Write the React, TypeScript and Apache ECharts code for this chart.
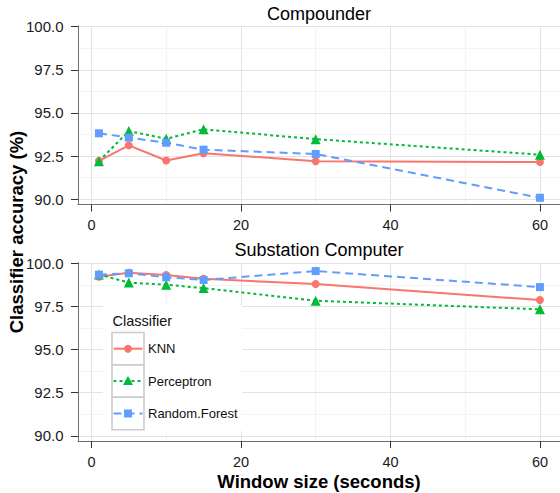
import React, { useEffect, useRef } from "react";
import * as echarts from "echarts";

const windows = [1, 5, 10, 15, 30, 60];
const compKNN = [92.22, 93.12, 92.24, 92.66, 92.2, 92.15];
const compPerceptron = [92.2, 93.95, 93.5, 94.05, 93.48, 92.58];
const compRandomForest = [93.82, 93.57, 93.27, 92.87, 92.62, 90.08];
const subKNN = [99.22, 99.45, 99.32, 99.1, 98.8, 97.87];
const subPerceptron = [99.35, 98.88, 98.76, 98.56, 97.83, 97.33];
const subRandomForest = [99.34, 99.42, 99.19, 99.03, 99.55, 98.62];

const xMajorTicks = [0, 20, 40, 60];
const xMinorTicks = [10, 30, 50];
const yMajorTicks = [90, 92.5, 95, 97.5, 100];
const yMinorTicks = [91.25, 93.75, 96.25, 98.75];

const panelTitles = ["Compounder", "Substation Computer"];
const classifiers = ["KNN", "Perceptron", "Random.Forest"];
const colors = ["#F8766D", "#00BA38", "#619CFF"];
const symbols = ["circle", "triangle", "rect"];
const symbolSizes = [8, 10, 8];
const lineTypes: any[] = ["solid", [3, 3], [8, 5]];

const FONT = "'Liberation Sans', Arial, Helvetica, sans-serif";

export default function App() {
  const ref = useRef<HTMLDivElement>(null);
  useEffect(() => {
    if (!ref.current) return;
    const chart = echarts.init(ref.current, undefined, { renderer: "svg" });

    const grids = [
      { left: 78, top: 26, width: 484, height: 178.5 },
      { left: 78, top: 262.6, width: 484, height: 178.5 },
    ].map((g) => ({ ...g, containLabel: false, outerBoundsMode: "none" }));

    const xMin = -1.8;
    const xMax = 62.95;
    const yMin = 89.69;
    const yMax = 100.04;

    const xAxes: any[] = [];
    const yAxes: any[] = [];
    [0, 1].forEach((g) => {
      xAxes.push({
        type: "value",
        gridIndex: g,
        min: xMin,
        max: xMax,
        axisLine: { show: true, onZero: false, lineStyle: { color: "#6e6e6e", width: 1 } },
        axisTick: { show: true, length: 7, customValues: xMajorTicks, lineStyle: { color: "#333", width: 1 } },
        axisLabel: { show: true, customValues: xMajorTicks, margin: 13, fontSize: 14.5, color: "#1a1a1a", fontFamily: FONT },
        splitLine: { show: true, lineStyle: { color: "#E3E3E3", width: 1 } },
        z: 1,
      });
      xAxes.push({
        type: "value",
        gridIndex: g,
        min: xMin,
        max: xMax,
        axisLine: { show: false, onZero: false },
        axisTick: { show: false, customValues: xMinorTicks },
        axisLabel: { show: false, customValues: xMinorTicks },
        splitLine: { show: true, lineStyle: { color: "#F3F3F3", width: 1 } },
        z: 0,
      });
      yAxes.push({
        type: "value",
        gridIndex: g,
        min: yMin,
        max: yMax,
        axisLine: { show: true, onZero: false, lineStyle: { color: "#6e6e6e", width: 1 } },
        axisTick: { show: true, length: 7, customValues: yMajorTicks, lineStyle: { color: "#333", width: 1 } },
        axisLabel: {
          show: true,
          customValues: yMajorTicks,
          margin: 14.5,
          fontSize: 15,
          color: "#1a1a1a",
          fontFamily: FONT,
          formatter: (v: number) => v.toFixed(1),
        },
        splitLine: { show: true, lineStyle: { color: "#E3E3E3", width: 1 } },
        z: 1,
      });
      yAxes.push({
        type: "value",
        gridIndex: g,
        min: yMin,
        max: yMax,
        axisLine: { show: false, onZero: false },
        axisTick: { show: false, customValues: yMinorTicks },
        axisLabel: { show: false, customValues: yMinorTicks },
        splitLine: { show: true, lineStyle: { color: "#F3F3F3", width: 1 } },
        z: 0,
      });
    });

    const panelData = [
      [compKNN, compPerceptron, compRandomForest],
      [subKNN, subPerceptron, subRandomForest],
    ];
    const series: any[] = [];
    panelData.forEach((panel, g) => {
      panel.forEach((vals, k) => {
        series.push({
          type: "line",
          name: classifiers[k],
          xAxisIndex: g * 2,
          yAxisIndex: g * 2,
          data: windows.map((w, i) => [w, vals[i]]),
          symbol: symbols[k],
          symbolSize: symbolSizes[k],
          showSymbol: true,
          lineStyle: { color: colors[k], width: 2, type: lineTypes[k] },
          itemStyle: { color: colors[k] },
          z: 3,
        });
      });
    });

    // legend drawn with graphics
    const legendX = 103;
    const legendY = 306;
    const keyX = 112;
    const keyTop = 332.5;
    const keyH = 32.4;
    const keyW = 32;
    const legendEls: any[] = [
      {
        type: "rect",
        shape: { x: legendX, y: legendY, width: 139, height: 125 },
        style: { fill: "#ffffff" },
        z: 100,
      },
      {
        type: "text",
        x: 112.5,
        y: 321,
        style: { text: "Classifier", fontSize: 14.5, fontFamily: FONT, fill: "#111", align: "left", verticalAlign: "middle" },
        z: 101,
      },
    ];
    classifiers.forEach((name, k) => {
      const cy = keyTop + keyH * k + keyH / 2;
      legendEls.push({
        type: "rect",
        shape: { x: keyX, y: keyTop + keyH * k, width: keyW, height: keyH },
        style: { fill: "#ffffff", stroke: "#CCCCCC", lineWidth: 1.6 },
        z: 101,
      });
      legendEls.push({
        type: "line",
        shape: { x1: keyX + 1.5, y1: cy, x2: keyX + keyW - 1.5, y2: cy },
        style: { stroke: colors[k], lineWidth: 2, lineDash: k === 0 ? null : lineTypes[k] },
        z: 102,
      });
      const mx = keyX + keyW / 2;
      if (k === 0) {
        legendEls.push({ type: "circle", shape: { cx: mx, cy, r: 4 }, style: { fill: colors[k] }, z: 103 });
      } else if (k === 1) {
        legendEls.push({
          type: "polygon",
          shape: { points: [[mx, cy - 5], [mx + 5, cy + 4], [mx - 5, cy + 4]] },
          style: { fill: colors[k] },
          z: 103,
        });
      } else {
        legendEls.push({ type: "rect", shape: { x: mx - 4, y: cy - 4, width: 8, height: 8 }, style: { fill: colors[k] }, z: 103 });
      }
      legendEls.push({
        type: "text",
        x: 148,
        y: cy,
        style: { text: name, fontSize: 13, fontFamily: FONT, fill: "#111", align: "left", verticalAlign: "middle" },
        z: 103,
      });
    });

    const titleEls: any[] = [
      {
        type: "text",
        x: 319,
        y: 14,
        style: { text: panelTitles[0], fontSize: 18, fontFamily: FONT, fill: "#000", align: "center", verticalAlign: "middle" },
      },
      {
        type: "text",
        x: 319,
        y: 250,
        style: { text: panelTitles[1], fontSize: 18, fontFamily: FONT, fill: "#000", align: "center", verticalAlign: "middle" },
      },
      {
        type: "text",
        x: 319,
        y: 481,
        style: {
          text: "Window size (seconds)",
          fontSize: 18.5,
          fontWeight: "bold",
          fontFamily: FONT,
          fill: "#000",
          align: "center",
          verticalAlign: "middle",
        },
      },
      {
        type: "text",
        x: 16,
        y: 232,
        rotation: Math.PI / 2,
        style: {
          text: "Classifier accuracy (%)",
          fontSize: 18.5,
          fontWeight: "bold",
          fontFamily: FONT,
          fill: "#000",
          align: "center",
          verticalAlign: "middle",
        },
      },
    ];

    chart.setOption({
      animation: false,
      backgroundColor: "#ffffff",
      grid: grids,
      xAxis: xAxes,
      yAxis: yAxes,
      series,
      graphic: [...titleEls, ...legendEls],
    });
    return () => chart.dispose();
  }, []);
  return (
    <div
      ref={ref}
      style={{ position: "fixed", left: 0, top: 0, width: 560, height: 493 }}
    />
  );
}
